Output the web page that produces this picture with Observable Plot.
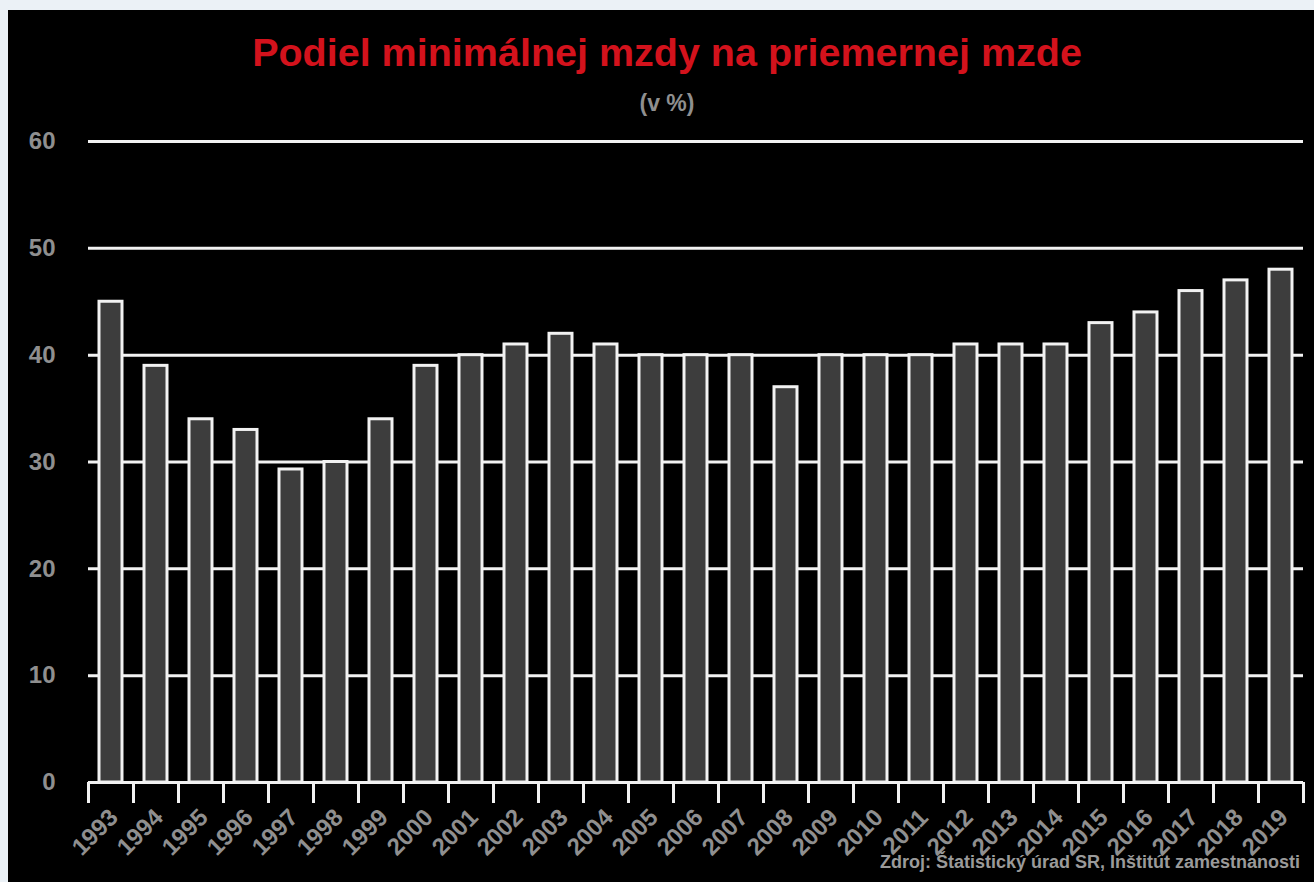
<!DOCTYPE html>
<html>
<head>
<meta charset="utf-8">
<script src="https://cdn.jsdelivr.net/npm/d3@7"></script>
<script src="https://cdn.jsdelivr.net/npm/@observablehq/plot@0.6"></script>
<style>
  html, body { margin: 0; padding: 0; background: #ebf1f6; }
  body { width: 1314px; height: 882px; position: relative; overflow: hidden; font-family: "Liberation Sans", Arial, sans-serif; }
  #panel { position: absolute; left: 8px; top: 10px; width: 1306px; height: 872px; background: #000; }
  #title { position: absolute; left: 6px; width: 100%; top: 20px; text-align: center; color: #d3121c; font-weight: bold; font-size: 39.5px; line-height: 44px; }
  #subtitle { position: absolute; left: 6px; width: 100%; top: 80px; text-align: center; color: #8f8f8f; font-weight: bold; font-size: 23px; line-height: 26px; }
  #chart { position: absolute; left: 0; top: 110px; }
  #source { position: absolute; right: 14px; top: 841px; color: #9a9a9a; font-weight: bold; font-size: 18px; line-height: 22px; }
</style>
</head>
<body>
<div id="panel">
  <div id="title">Podiel minimálnej mzdy na priemernej mzde</div>
  <div id="subtitle">(v %)</div>
  <div id="chart"></div>
  <div id="source">Zdroj: Štatistický úrad SR, Inštitút zamestnanosti</div>
</div>
<script>
const years = ["1993","1994","1995","1996","1997","1998","1999","2000","2001","2002","2003","2004","2005","2006","2007","2008","2009","2010","2011","2012","2013","2014","2015","2016","2017","2018","2019"];
const values = [45, 39, 34, 33, 29.3, 30, 34, 39, 40, 41, 42, 41, 40, 40, 40, 37, 40, 40, 40, 41, 41, 41, 43, 44, 46, 47, 48];
const yTicks = [0, 10, 20, 30, 40, 50, 60];

const data = years.map((y, i) => ({year: y, value: values[i]}));

const W = 1306, ML = 80, MR = 11;
const step = (W - ML - MR) / years.length;

const chart = Plot.plot({
  width: W,
  height: 742,
  marginLeft: ML,
  marginRight: MR,
  marginTop: 21,
  marginBottom: 80,
  style: {background: "transparent", fontFamily: "Liberation Sans, Arial, sans-serif"},
  x: {domain: years, paddingInner: 0.5, paddingOuter: 0.25, label: null},
  y: {domain: [0, 60], label: null},
  marks: [
    Plot.ruleY(yTicks, {stroke: "#f2f2f2", strokeWidth: 3}),
    Plot.barY(data, {x: "year", y: "value", fill: "#3d3d3d", stroke: "#f2f2f2", strokeWidth: 3}),
    Plot.ruleY([0], {stroke: "#f2f2f2", strokeWidth: 3}),
    Plot.axisY(yTicks, {tickSize: 0, tickPadding: 33, fontSize: 24, fontWeight: "bold", fill: "#8f8f8f"}),
    Plot.axisX({tickSize: 21, dx: -step / 2, tickFormat: () => "", stroke: "#f2f2f2", strokeWidth: 3}),
    Plot.axisX([years[years.length - 1]], {tickSize: 21, dx: step / 2, tickFormat: () => "", stroke: "#f2f2f2", strokeWidth: 3}),
    Plot.axisX({tickSize: 0, tickPadding: 31, tickRotate: -45, fontSize: 24, fontWeight: "bold", fill: "#8f8f8f", dx: 3})
  ]
});
document.getElementById("chart").appendChild(chart);
</script>
</body>
</html>
